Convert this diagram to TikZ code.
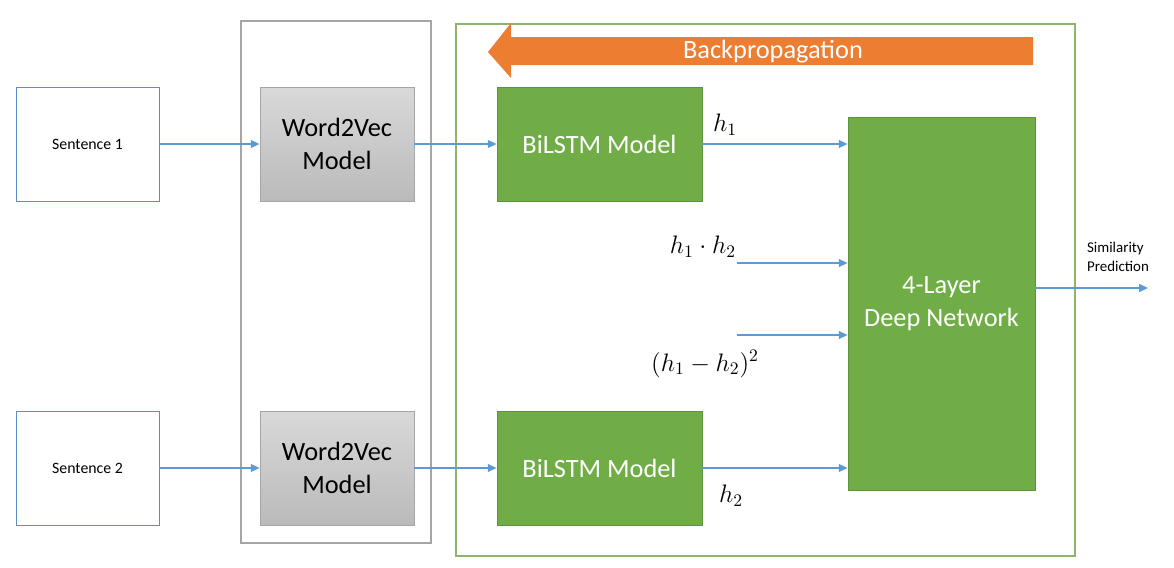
\documentclass[tikz,border=0pt]{standalone}
\usepackage[no-math]{fontspec}
\setmainfont{Carlito}
\usepackage{xcolor}
\usetikzlibrary{positioning,calc,arrows.meta}

\definecolor{flowblue}{HTML}{5B9BD5}
\definecolor{sentblue}{HTML}{5B8FC7}
\definecolor{lstmgreen}{HTML}{70AD47}
\definecolor{lstmedge}{HTML}{5E9339}
\definecolor{frame}{HTML}{8DB56C}
\definecolor{backorange}{HTML}{ED7D31}

\tikzset{
    sentbox/.style={draw=sentblue, line width=0.5pt, minimum width=2.86cm, minimum height=2.28cm, font=\fontsize{9}{11}\selectfont},
    vecbox/.style={draw=black!35, line width=0.5pt, top color=black!15, bottom color=black!27, minimum width=3.08cm, minimum height=2.28cm, align=center, font=\fontsize{15}{18.5}\selectfont},
    lstmbox/.style={draw=lstmedge, fill=lstmgreen, line width=0.5pt, text=white, minimum width=4.1cm, minimum height=2.28cm, font=\fontsize{15}{18.5}\selectfont},
    flow/.style={flowblue, line width=0.6pt, -{Triangle[length=5pt,width=4.5pt]}},
    mlabel/.style={font=\fontsize{14}{16}\selectfont}
}

\begin{document}
\begin{tikzpicture}[x=0.02cm, y=-0.02cm]
    \useasboundingbox (0,0) rectangle (1174,568);

    % Containers
    \draw[black!35, line width=0.6pt] (241,21) rectangle (431,543);
    \draw[frame, line width=0.6pt] (456,24) rectangle (1075,556);

    % Backpropagation
    \fill[backorange] (488,52) -- (511,23) -- (511,37) -- (1033,37) -- (1033,65) -- (511,65) -- (511,78) -- cycle;
    \node[text=white, font=\fontsize{15}{18}\selectfont] (backlbl) at (773,52) {Backpropagation};

    % Inputs
    \node[sentbox] (sent1) at (87.5,144) {Sentence 1};
    \node[sentbox] (sent2) at (87.5,468) {Sentence 2};

    % Word2Vec
    \node[vecbox] (w2v1) at (337,144) {Word2Vec\\Model};
    \node[vecbox] (w2v2) at (337,468) {Word2Vec\\Model};

    % BiLSTM
    \node[lstmbox] (lstm1) at (599.5,144) {BiLSTM Model};
    \node[lstmbox] (lstm2) at (599.5,468) {BiLSTM Model};

    % Deep network
    \node[draw=lstmedge, fill=lstmgreen, line width=0.5pt, text=white, minimum width=3.74cm, minimum height=7.46cm, align=center, font=\fontsize{15}{18.5}\selectfont] (dn) at (941.5,303.5) {4-Layer\\Deep Network};

    % Features
    \node[mlabel] (h1) at (725,125) {$h_1$};
    \node[mlabel] (h2) at (731,496) {$h_2$};
    \node[mlabel] (prod) at (703,247) {$h_1\cdot h_2$};
    \node[mlabel] (diff) at (705,364) {$(h_1-h_2)^2$};
    \coordinate (in1) at (737,263);
    \coordinate (in2) at (737,335);
    \coordinate (out) at (1148,288);
    \node[font=\fontsize{8.5}{10.5}\selectfont, align=left] (simlbl) at (1118,257) {Similarity\\Prediction};

    % Connectors
    \draw[flow] (sent1) -- (w2v1);
    \draw[flow] (sent2) -- (w2v2);
    \draw[flow] (w2v1) -- (lstm1);
    \draw[flow] (w2v2) -- (lstm2);
    \draw[flow] (lstm1) -- (lstm1 -| dn.west);
    \draw[flow] (lstm2) -- (lstm2 -| dn.west);
    \draw[flow] (in1) -- (in1 -| dn.west);
    \draw[flow] (in2) -- (in2 -| dn.west);
    \draw[flow] (dn.east |- out) -- (out);
\end{tikzpicture}
\end{document}
